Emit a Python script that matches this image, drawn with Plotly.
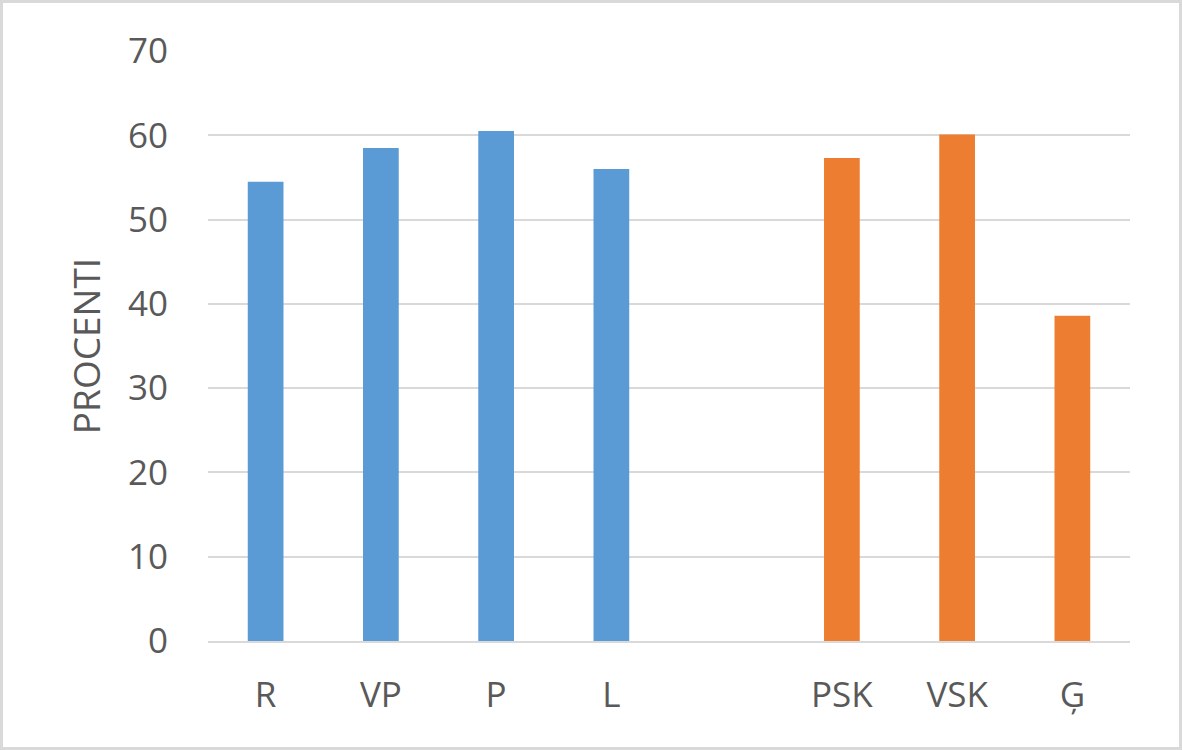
import plotly.graph_objects as go

# Data
all_categories = ["R", "VP", "P", "L", " ", "PSK", "VSK", "Ģ"]
blue_categories = ["R", "VP", "P", "L"]
blue_values = [54.5, 58.5, 60.5, 56.0]
orange_categories = ["PSK", "VSK", "Ģ"]
orange_values = [57.3, 60.1, 38.6]
y_ticks = [0, 10, 20, 30, 40, 50, 60, 70]

FONT = "Open Sans"
TXT = "#595959"
GRID = "#d9d9d9"

fig = go.Figure()
fig.add_trace(go.Bar(x=blue_categories, y=blue_values, marker=dict(color="#5B9BD5", line=dict(width=0)), showlegend=False))
fig.add_trace(go.Bar(x=orange_categories, y=orange_values, marker=dict(color="#ED7D31", line=dict(width=0)), showlegend=False))

W, H = 1182, 750
L, R, T, B = 208, 52, 51, 109
pw, ph = W - L - R, H - T - B

fig.update_layout(
    width=W, height=H,
    margin=dict(l=L, r=R, t=T, b=B, autoexpand=False),
    paper_bgcolor="white", plot_bgcolor="white",
    barmode="overlay", bargap=0.69,
    font=dict(family=FONT, size=35, color=TXT),
    xaxis=dict(type="category", categoryorder="array", categoryarray=all_categories,
               showgrid=False, showline=True, linecolor=GRID, linewidth=2,
               ticks="outside", ticklen=22, tickcolor="rgba(0,0,0,0)",
               tickfont=dict(family=FONT, size=35, color=TXT), automargin=False),
    yaxis=dict(range=[0, 70], tickvals=y_ticks, showgrid=True, gridcolor=GRID, gridwidth=2,
               zeroline=False, showline=False, ticks="", ticklabelstandoff=39,
               tickfont=dict(family=FONT, size=35, color=TXT),
               title=dict(text="PROCENTI", font=dict(family=FONT, size=37, color=TXT), standoff=16),
               automargin=False),
    shapes=[dict(type="rect", xref="paper", yref="paper",
                 x0=(1.5 - L) / pw, x1=(W - 1.5 - L) / pw,
                 y0=-(H - 1.5 - T - ph) / ph, y1=(ph + T - 1.5) / ph,
                 line=dict(color=GRID, width=3), fillcolor="rgba(0,0,0,0)", layer="below")],
)

fig.write_html("out.html", config={"displayModeBar": False},
               post_script="document.body.style.margin='0';document.body.style.overflow='hidden';")
